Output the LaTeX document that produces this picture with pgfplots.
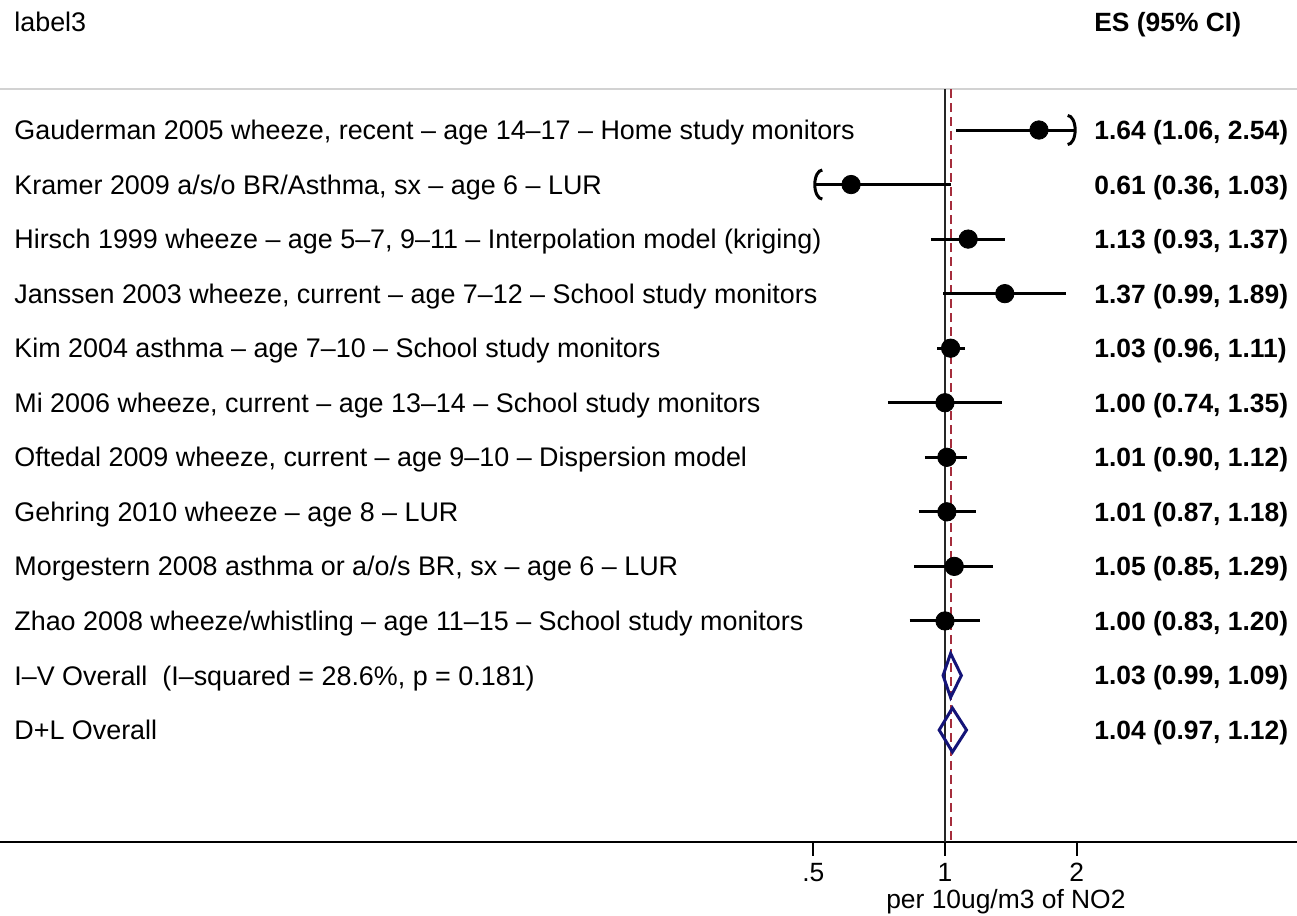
\documentclass[border=0pt]{standalone}
\usepackage{pgfplots}
\pgfplotsset{compat=1.18}
\usepackage{fontspec}
\setmainfont{Liberation Sans}
\usetikzlibrary{arrows.meta}
\definecolor{navyd}{RGB}{20,20,120}
\definecolor{refred}{RGB}{165,45,60}
\newcommand{\tf}{\fontsize{13.2}{15}\selectfont}
\newcommand{\lf}{\fontsize{13.45}{15}\selectfont}
\begin{document}
\begin{tikzpicture}[
  lbl/.style={anchor=west, inner sep=0pt, text height=9.6pt, text depth=0pt, font=\lf},
  num/.style={anchor=west, inner sep=0pt, text height=9.5pt, text depth=0pt, font=\tf\bfseries}]
\begin{axis}[
  scale only axis, width=648.5pt, height=376.5pt,
  xmode=log, log basis x=2,
  xmin=0.006919, xmax=6.377,
  ymin=0.2483, ymax=14.053, y dir=reverse,
  axis y line=none, axis x line*=bottom,
  x axis line style={-, line width=1pt},
  xtick={0.5,1,2}, xticklabels={.5,1,2}, minor xtick={},
  tick align=outside, major tick length=7pt,
  x tick style={line width=1pt, black},
  xticklabel style={font=\tf, inner sep=0pt, text height=9.5pt, text depth=0pt, anchor=north, yshift=-3pt},
  /pgf/number format/assume math mode=true,
  clip=false,
]
\coordinate (BL) at (rel axis cs:0,0);
\coordinate (TR) at (rel axis cs:1,1);
% frame lines
\addplot[gray!35, line width=1pt] coordinates {(0.006919,0.2483) (6.377,0.2483)};
\addplot[black!85, line width=1pt] coordinates {(1,0.2483) (1,14.053)};
\addplot[refred, line width=1pt, dash pattern=on 4.5pt off 2.5pt] coordinates {(1.03,0.2483) (1.03,14.053)};
% confidence intervals
\addplot[black, line width=1.5pt, -{Arc Barb[length=4.5pt, width=16pt]}] coordinates {(1.06,1) (2,1)};
\addplot[black, line width=1.5pt, {Arc Barb[length=4.5pt, width=16pt]}-] coordinates {(0.5,2) (1.03,2)};
\addplot[black, line width=1.5pt] coordinates {(0.93,3) (1.37,3)};
\addplot[black, line width=1.5pt] coordinates {(0.99,4) (1.89,4)};
\addplot[black, line width=1.5pt] coordinates {(0.96,5) (1.11,5)};
\addplot[black, line width=1.5pt] coordinates {(0.74,6) (1.35,6)};
\addplot[black, line width=1.5pt] coordinates {(0.90,7) (1.12,7)};
\addplot[black, line width=1.5pt] coordinates {(0.87,8) (1.18,8)};
\addplot[black, line width=1.5pt] coordinates {(0.85,9) (1.29,9)};
\addplot[black, line width=1.5pt] coordinates {(0.83,10) (1.20,10)};
% point estimates
\addplot[only marks, mark=*, mark size=4.6pt, black] coordinates {
 (1.64,1) (0.61,2) (1.13,3) (1.37,4) (1.03,5) (1.00,6) (1.01,7) (1.01,8) (1.05,9) (1.00,10)};
% pooled diamonds
\addplot[navyd, line width=1.5pt] coordinates {(0.99,11) (1.03,10.597) (1.09,11) (1.03,11.403) (0.99,11)} -- cycle;
\addplot[navyd, line width=1.5pt] coordinates {(0.97,12) (1.04,11.597) (1.12,12) (1.04,12.403) (0.97,12)} -- cycle;
% headers
\node[lbl] at (axis cs:0.007448,-0.98) {label3};
\node[num] at (axis cs:2.1906,-0.98) {ES (95\% CI)};
% study labels
\node[lbl] at (axis cs:0.007448,1) {Gauderman 2005 wheeze, recent -- age 14--17 -- Home study monitors};
\node[lbl] at (axis cs:0.007448,2) {Kramer 2009 a/s/o BR/Asthma, sx -- age 6 -- LUR};
\node[lbl] at (axis cs:0.007448,3) {Hirsch 1999 wheeze -- age 5--7, 9--11 -- Interpolation model (kriging)};
\node[lbl] at (axis cs:0.007448,4) {Janssen 2003 wheeze, current -- age 7--12 -- School study monitors};
\node[lbl] at (axis cs:0.007448,5) {Kim 2004 asthma -- age 7--10 -- School study monitors};
\node[lbl] at (axis cs:0.007448,6) {Mi 2006 wheeze, current -- age 13--14 -- School study monitors};
\node[lbl] at (axis cs:0.007448,7) {Oftedal 2009 wheeze, current -- age 9--10 -- Dispersion model};
\node[lbl] at (axis cs:0.007448,8) {Gehring 2010 wheeze -- age 8 -- LUR};
\node[lbl] at (axis cs:0.007448,9) {Morgestern 2008 asthma or a/o/s BR, sx -- age 6 -- LUR};
\node[lbl] at (axis cs:0.007448,10) {Zhao 2008 wheeze/whistling -- age 11--15 -- School study monitors};
\node[lbl] at (axis cs:0.007448,11) {I--V Overall\ \ (I--squared = 28.6\%, p = 0.181)};
\node[lbl] at (axis cs:0.007448,12) {D+L Overall};
% estimates
\node[num] at (axis cs:2.1906,1) {1.64 (1.06, 2.54)};
\node[num] at (axis cs:2.1906,2) {0.61 (0.36, 1.03)};
\node[num] at (axis cs:2.1906,3) {1.13 (0.93, 1.37)};
\node[num] at (axis cs:2.1906,4) {1.37 (0.99, 1.89)};
\node[num] at (axis cs:2.1906,5) {1.03 (0.96, 1.11)};
\node[num] at (axis cs:2.1906,6) {1.00 (0.74, 1.35)};
\node[num] at (axis cs:2.1906,7) {1.01 (0.90, 1.12)};
\node[num] at (axis cs:2.1906,8) {1.01 (0.87, 1.18)};
\node[num] at (axis cs:2.1906,9) {1.05 (0.85, 1.29)};
\node[num] at (axis cs:2.1906,10) {1.00 (0.83, 1.20)};
\node[num] at (axis cs:2.1906,11) {1.03 (0.99, 1.09)};
\node[num] at (axis cs:2.1906,12) {1.04 (0.97, 1.12)};
% x label
\node[anchor=center, inner sep=0pt, text height=9.5pt, text depth=0pt, font=\tf] at (axis cs:1.378,15.09) {per 10ug/m3 of NO2};
\end{axis}
\pgfresetboundingbox
\path ([yshift=-37pt]BL) rectangle ([yshift=44.5pt]TR);
\end{tikzpicture}
\end{document}
